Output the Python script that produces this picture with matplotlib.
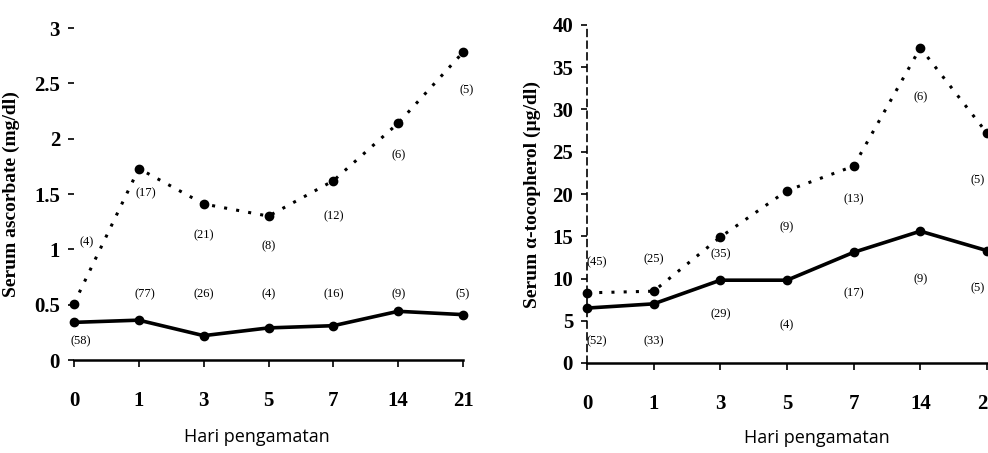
import matplotlib.pyplot as plt

# hari pengamatan (categorical)
days = ["0", "1", "3", "5", "7", "14", "21"]

# panel kiri - serum ascorbate (mg/dl)
asc_dotted = [0.51, 1.73, 1.41, 1.30, 1.62, 2.14, 2.78]
asc_solid = [0.34, 0.36, 0.22, 0.29, 0.31, 0.44, 0.41]
asc_dotted_n = ["(4)", "(17)", "(21)", "(8)", "(12)", "(6)", "(5)"]
asc_solid_n = ["(58)", "(77)", "(26)", "(4)", "(16)", "(9)", "(5)"]

# panel kanan - serum alpha-tocopherol
toc_dotted = [8.3, 8.5, 14.9, 20.4, 23.3, 37.3, 27.2]
toc_solid = [6.5, 7.0, 9.8, 9.8, 13.1, 15.6, 13.3]
toc_dotted_n = ["(45)", "(25)", "(35)", "(9)", "(13)", "(6)", "(5)"]
toc_solid_n = ["(52)", "(33)", "(29)", "(4)", "(17)", "(9)", "(5)"]

serif = "Liberation Serif"

fig = plt.figure(figsize=(9.88, 4.53), dpi=100)

ax1 = fig.add_axes([74/988, 93/453, 389/988, 332/453])
ax2 = fig.add_axes([587/988, 90/453, 400/988, 338/453])

x = list(range(len(days)))


def style(ax, ylim, yticks, yticklabels):
    ax.set_xlim(0, 6)
    ax.set_ylim(*ylim)
    ax.set_xticks(x)
    ax.set_xticklabels(days, fontfamily=serif, fontweight="bold", fontsize=15)
    ax.set_yticks(yticks)
    ax.set_yticklabels(yticklabels, fontfamily=serif, fontweight="bold", fontsize=15)
    ax.tick_params(axis="x", direction="out", length=5, width=1.2, pad=17)
    ax.tick_params(axis="y", direction="out", length=4, width=1.2, pad=6)
    for s in ["top", "right"]:
        ax.spines[s].set_visible(False)
    ax.spines["bottom"].set_linewidth(1.8)
    ax.set_xlabel("Hari pengamatan", fontfamily="Open Sans", fontsize=13)


# left panel
ax1.plot(x, asc_dotted, color="black", linestyle=(0, (1, 3)), linewidth=2.2,
         marker="o", markersize=6, clip_on=False)
ax1.plot(x, asc_solid, color="black", linestyle="-", linewidth=2.6,
         marker="o", markersize=6, clip_on=False)
style(ax1, (0, 3), [0, 0.5, 1, 1.5, 2, 2.5, 3], ["0", "0.5", "1", "1.5", "2", "2.5", "3"])
ax1.spines["left"].set_visible(False)
ax1.set_ylabel("Serum ascorbate (mg/dl)", fontfamily=serif, fontweight="bold",
               fontsize=14, labelpad=10)
ax1.xaxis.set_label_coords(0.47, -0.205)

dot_off1 = [(0.2, 0.55), (0.1, -0.22), (0, -0.28), (0, -0.27), (0, -0.32), (0, -0.29), (0.05, -0.34)]
for i, t in enumerate(asc_dotted_n):
    ax1.text(x[i] + dot_off1[i][0], asc_dotted[i] + dot_off1[i][1], t, fontfamily=serif,
             fontsize=9, ha="center", va="center")
sol_off1 = [(0.1, -0.17), (0.1, 0.23), (0, 0.37), (0, 0.3), (0, 0.28), (0, 0.15), (0, 0.18)]
for i, t in enumerate(asc_solid_n):
    ax1.text(x[i] + sol_off1[i][0], asc_solid[i] + sol_off1[i][1], t, fontfamily=serif,
             fontsize=9, ha="center", va="center")

# right panel
ax2.plot(x, toc_dotted, color="black", linestyle=(0, (1, 3)), linewidth=2.2,
         marker="o", markersize=6, clip_on=False)
ax2.plot(x, toc_solid, color="black", linestyle="-", linewidth=2.6,
         marker="o", markersize=6, clip_on=False)
style(ax2, (0, 40), list(range(0, 41, 5)), [str(v) for v in range(0, 41, 5)])
ax2.spines["left"].set_linestyle((0, (4, 3)))
ax2.spines["left"].set_linewidth(1.2)
ax2.set_ylabel("Serum α-tocopherol (µg/dl)", fontfamily=serif, fontweight="bold",
               fontsize=14, labelpad=8)
ax2.xaxis.set_label_coords(0.575, -0.195)

dot_off2 = [(0.15, 3.6), (0, 3.8), (0, -2.0), (0, -4.3), (0, -3.9), (0, -5.8), (-0.14, -5.6)]
for i, t in enumerate(toc_dotted_n):
    ax2.text(x[i] + dot_off2[i][0], toc_dotted[i] + dot_off2[i][1], t, fontfamily=serif,
             fontsize=9, ha="center", va="center")
sol_off2 = [(0.15, -3.9), (0, -4.4), (0, -4.0), (0, -5.3), (0, -4.9), (0, -5.7), (-0.14, -4.5)]
for i, t in enumerate(toc_solid_n):
    ax2.text(x[i] + sol_off2[i][0], toc_solid[i] + sol_off2[i][1], t, fontfamily=serif,
             fontsize=9, ha="center", va="center")

fig.savefig("out.png", dpi=100)
